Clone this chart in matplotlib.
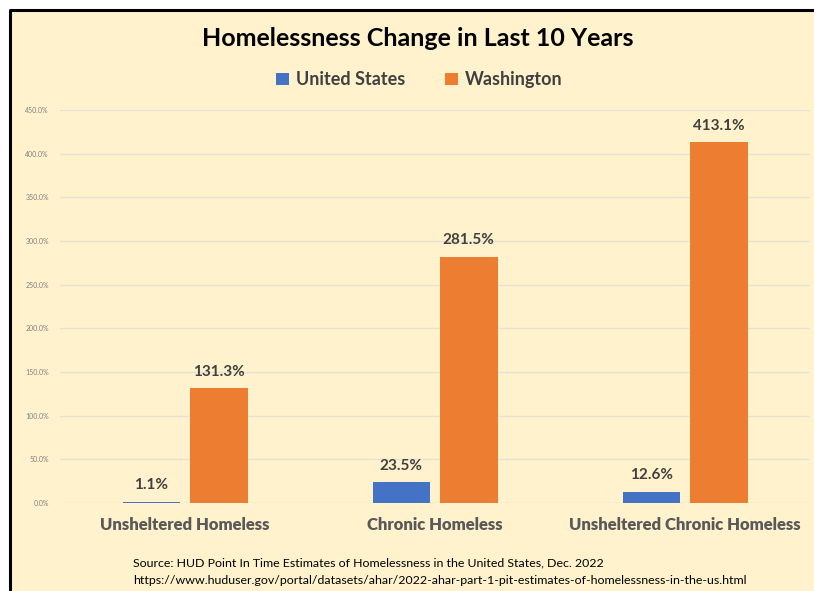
import matplotlib.pyplot as plt
from matplotlib.patches import Rectangle
from matplotlib.lines import Line2D
from matplotlib.ticker import FuncFormatter
import numpy as np

categories = ['Unsheltered Homeless', 'Chronic Homeless', 'Unsheltered Chronic Homeless']
us_values = [1.1, 23.5, 12.6]
wa_values = [131.3, 281.5, 413.1]
series_names = ['United States', 'Washington']

blue = '#4472C4'
orange = '#ED7D31'
cream = '#FFF2CC'
text_grey = '#404040'

plt.rcParams['font.family'] = ['Lato', 'DejaVu Sans']

fig = plt.figure(figsize=(8.14, 5.91), dpi=100)
fig.patch.set_facecolor('white')

# cream panel with a black frame on the top and left only
x0, y0 = 10 / 814, 1 - 10 / 591
fig.patches.append(Rectangle((x0, 0), 1 - x0, y0, transform=fig.transFigure,
                             facecolor=cream, edgecolor='none', zorder=-1))
fig.lines.append(Line2D([x0, x0, 1], [0, y0, y0], transform=fig.transFigure,
                        color='black', linewidth=2.2, zorder=0))

ax = fig.add_axes([60 / 814, 1 - 503 / 591, 750 / 814, (503 - 110) / 591])
ax.set_zorder(2)
ax.set_facecolor('none')

x = np.arange(len(categories))
width = 0.23
gap = 0.02
bars_us = ax.bar(x - width / 2 - gap, us_values, width, color=blue, label=series_names[0], zorder=3)
bars_wa = ax.bar(x + width / 2 + gap, wa_values, width, color=orange, label=series_names[1], zorder=3)

for bars in (bars_us, bars_wa):
    for b in bars:
        h = b.get_height()
        ax.annotate(f'{h:.1f}%', (b.get_x() + b.get_width() / 2, h), xytext=(0, 7),
                    textcoords='offset points', ha='center', va='bottom',
                    fontsize=11, fontweight='bold', color=text_grey)

ax.set_xlim(-0.5, 2.5)
ax.set_ylim(0, 450)
ax.set_yticks(np.arange(0, 451, 50))
ax.yaxis.set_major_formatter(FuncFormatter(lambda v, p: f'{v:.1f}%'))
ax.tick_params(axis='y', labelsize=5, colors='#808080', length=0, pad=8)
ax.set_xticks(x)
ax.set_xticklabels(categories, fontsize=12, fontweight='heavy', color='#595959')
ax.tick_params(axis='x', length=0, pad=10)
ax.grid(axis='y', color='#E6E2D3', linewidth=1, zorder=0)
for s in ax.spines.values():
    s.set_visible(False)

fig.text(0.513, 1 - 38 / 591, 'Homelessness Change in Last 10 Years', ha='center', va='center',
         fontsize=18, fontweight='bold', color='black')
fig.legend(loc='center', bbox_to_anchor=(0.515, 1 - 80 / 591), ncol=2, frameon=False,
           handlelength=0.7, handleheight=0.7, columnspacing=2.2, handletextpad=0.4,
           prop={'weight': 'bold', 'size': 13})
for t in fig.legends[0].get_texts():
    t.set_color(text_grey)

fig.text(133 / 814, 1 - 563 / 591, 'Source: HUD Point In Time Estimates of Homelessness in the United States, Dec. 2022',
         ha='left', va='center', fontsize=8.9, color='black')
fig.text(133 / 814, 1 - 580 / 591,
         'https://www.huduser.gov/portal/datasets/ahar/2022-ahar-part-1-pit-estimates-of-homelessness-in-the-us.html',
         ha='left', va='center', fontsize=8.9, color='black')

fig.savefig('out.png', dpi=100, facecolor=fig.get_facecolor())
